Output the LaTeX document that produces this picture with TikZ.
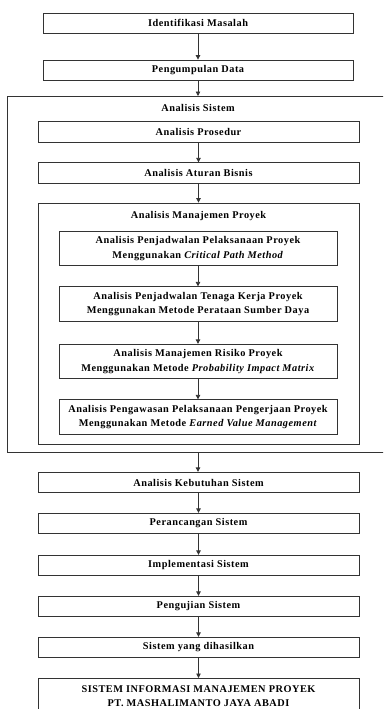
\documentclass[tikz,border=0pt]{standalone}
\usepackage{fontspec}
\setmainfont{Liberation Serif}[LetterSpace=5]
\usetikzlibrary{arrows.meta}
\begin{document}
\begin{tikzpicture}[x=1pt,y=-1pt,
  line/.style={draw=black!80,line width=0.8pt},
  stage/.style={line,rectangle,inner sep=0pt,align=center,
    font=\bfseries\fontsize{10.3}{14.5}\selectfont},
  wide/.style={stage,minimum width=321pt,minimum height=20.5pt},
  top/.style={stage,minimum width=310pt,minimum height=20pt},
  sub/.style={stage,minimum width=278pt,minimum height=34.5pt},
  title/.style={inner sep=0pt,font=\bfseries\fontsize{10.3}{14.5}\selectfont},
  flow/.style={line,-{Triangle[length=4.5pt,width=4.5pt]}}]
\useasboundingbox (0,0) rectangle (383,709);
\fill[white] (0,0) rectangle (383,709);
\clip (0,0) rectangle (383,709);

% opening steps
\node[top] (ident) at (198,23) {Identifikasi Masalah};
\node[top] (data) at (198,70) {Pengumpulan Data};

% system analysis group (its right side runs off the page)
\node[line,rectangle,inner sep=0pt,minimum width=388pt,minimum height=356pt,anchor=north west] (sys) at (7,96) {};
\node[title] (systitle) at (198,108) {Analisis Sistem};
\node[wide] (prosedur) at (198.5,132) {Analisis Prosedur};
\node[wide] (bisnis) at (198.5,173) {Analisis Aturan Bisnis};

% project management analysis group
\node[line,rectangle,inner sep=0pt,minimum width=321pt,minimum height=241pt] (mgmt) at (198.5,323.5) {};
\node[title] (mgmttitle) at (198.5,216) {Analisis Manajemen Proyek};
\node[sub] (jadwal) at (198,248.5) {Analisis Penjadwalan Pelaksanaan Proyek\\Menggunakan \textit{Critical Path Method}};
\node[sub] (tenaga) at (198,304) {Analisis Penjadwalan Tenaga Kerja Proyek\\Menggunakan Metode Perataan Sumber Daya};
\node[sub] (risiko) at (198,361.5) {Analisis Manajemen Risiko Proyek\\Menggunakan Metode \textit{Probability Impact Matrix}};
\node[sub] (awas) at (198,417) {Analisis Pengawasan Pelaksanaan Pengerjaan Proyek\\Menggunakan Metode \textit{Earned Value Management}};

% closing steps
\node[wide] (butuh) at (198.5,482.5) {Analisis Kebutuhan Sistem};
\node[wide] (rancang) at (198.5,523.5) {Perancangan Sistem};
\node[wide] (impl) at (198.5,565.5) {Implementasi Sistem};
\node[wide] (uji) at (198.5,606.5) {Pengujian Sistem};
\node[wide] (hasil) at (198.5,647.5) {Sistem yang dihasilkan};
\node[stage,minimum width=321pt,minimum height=38pt,anchor=north] (sim) at (198.5,678) {};
\node[title,align=center] (simtext) at (198.5,696) {SISTEM INFORMASI MANAJEMEN PROYEK\\PT. MASHALIMANTO JAYA ABADI};

% connectors
\draw[flow] (ident.south) -- (data.north);
\draw[flow] (data.south) -- (data.south |- sys.north);
\draw[flow] (prosedur.south) -- (prosedur.south |- bisnis.north);
\draw[flow] (bisnis.south) -- (bisnis.south |- mgmt.north);
\draw[flow] (jadwal.south) -- (tenaga.north);
\draw[flow] (tenaga.south) -- (risiko.north);
\draw[flow] (risiko.south) -- (awas.north);
\draw[flow] (data.south |- sys.south) -- (data.south |- butuh.north);
\draw[flow] (butuh.south) -- (rancang.north);
\draw[flow] (rancang.south) -- (impl.north);
\draw[flow] (impl.south) -- (uji.north);
\draw[flow] (uji.south) -- (hasil.north);
\draw[flow] (hasil.south) -- (sim.north);
\end{tikzpicture}
\end{document}
